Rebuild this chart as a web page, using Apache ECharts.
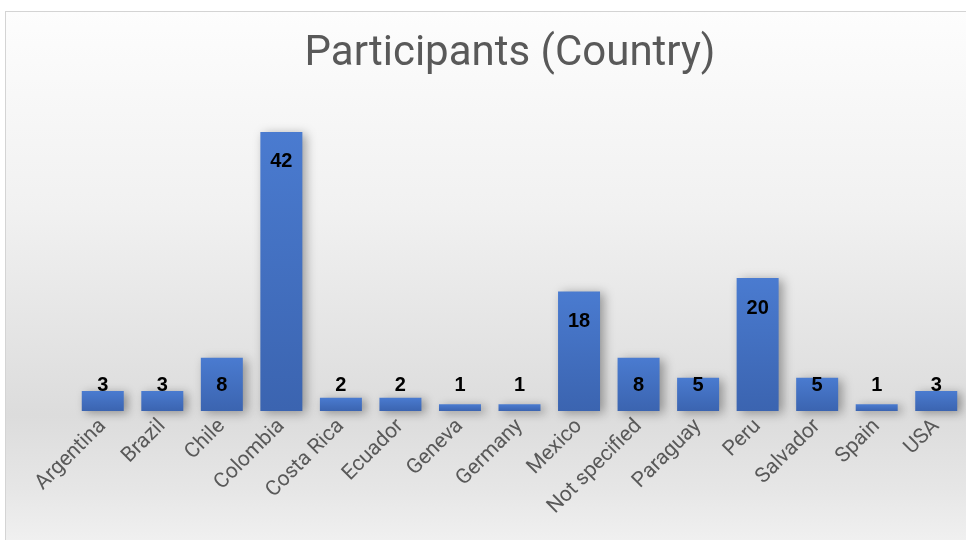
<!DOCTYPE html>
<html><head><meta charset="utf-8">
<script src="https://cdn.jsdelivr.net/npm/echarts@6/dist/echarts.min.js"></script>
<style>
html,body{margin:0;padding:0;background:#fff;width:966px;height:540px;overflow:hidden;}
#bg{position:absolute;left:5px;top:11px;width:980px;height:560px;border:1px solid #d4d4d4;
background:linear-gradient(to bottom,#fdfdfd 0%,#f1f1f1 35%,#dcdcdc 72%,#e6e6e6 85%,#f6f6f6 100%);}
#chart{position:absolute;left:0;top:0;width:966px;height:540px;}
</style></head>
<body><div id="bg"></div><div id="chart"></div>
<script>
const titleText = 'Participants (Country)';
const countries = ['Argentina','Brazil','Chile','Colombia','Costa Rica','Ecuador','Geneva','Germany','Mexico','Not specified','Paraguay','Peru','Salvador','Spain','USA'];
const participants = [3,3,8,42,2,2,1,1,18,8,5,20,5,1,3];

const chart = echarts.init(document.getElementById('chart'), null, {renderer:'canvas'});
const data = participants.map(v => ({
  value: v,
  label: v >= 10 ? {position:'insideTop', distance:20} : {position:'insideBottom', distance:16}
}));
chart.setOption({
  backgroundColor:'transparent',
  title:{text:titleText,left:505,top:28,textAlign:'center',
    textStyle:{fontFamily:'Roboto, sans-serif',fontSize:42,fontWeight:'normal',color:'#595959'}},
  grid:{left:73,right:-7,top:112,bottom:129,containLabel:false},
  xAxis:{type:'category',data:countries,
    axisLine:{show:false},axisTick:{show:false},
    axisLabel:{rotate:45,margin:12,interval:0,color:'#595959',fontSize:21,fontFamily:'Roboto, sans-serif'}},
  yAxis:{type:'value',min:0,max:45,show:false,splitLine:{show:false}},
  series:[{type:'bar',data:data,barWidth:42,
    itemStyle:{color:new echarts.graphic.LinearGradient(0,0,0,1,[{offset:0,color:'#4a7bd0'},{offset:1,color:'#3b64b0'}]),
      shadowBlur:10,shadowColor:'rgba(0,0,0,0.35)',shadowOffsetX:4,shadowOffsetY:2},
    label:{show:true,color:'#000',fontWeight:'bold',fontSize:20,fontFamily:'Liberation Sans, Arial, sans-serif'}}]
});
</script></body></html>
